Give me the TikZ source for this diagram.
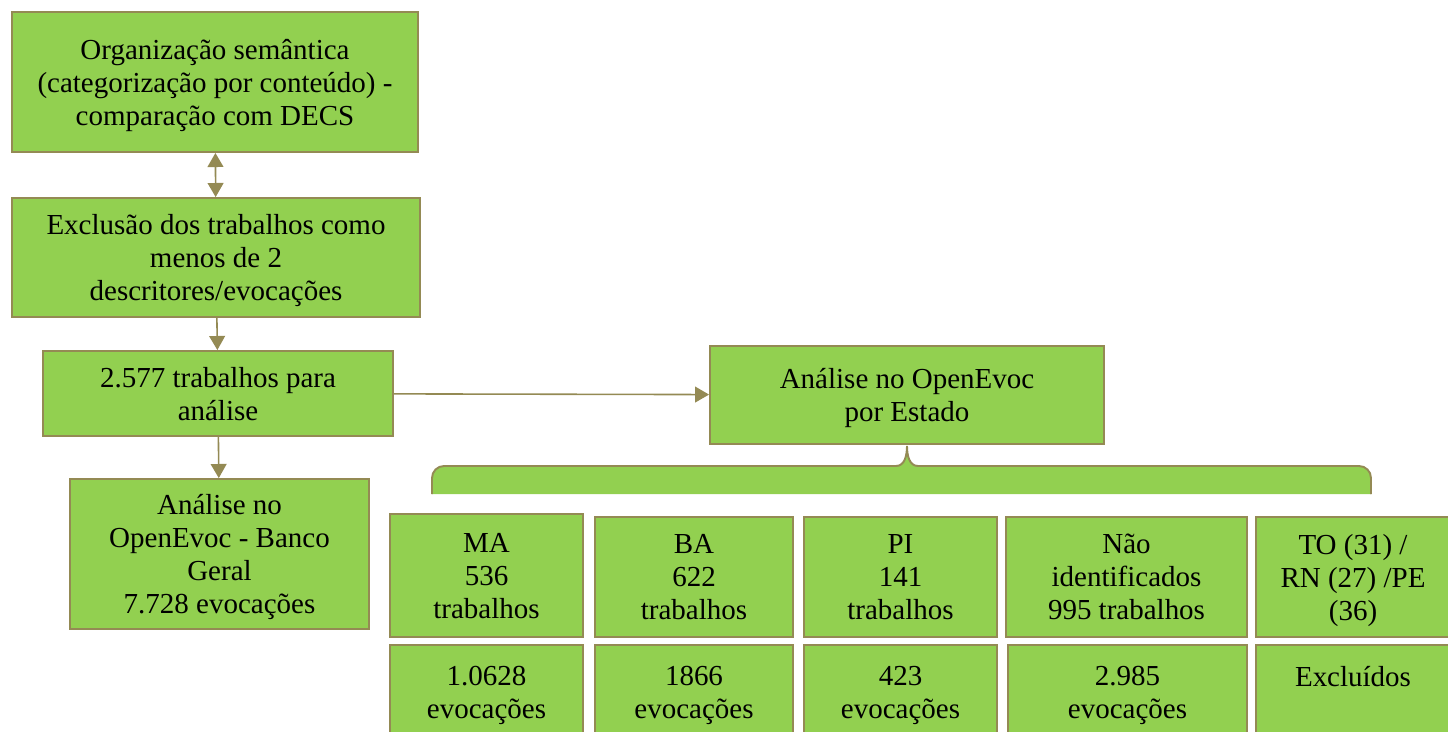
\documentclass[tikz,border=0pt]{standalone}
\usepackage{fontspec}
\setmainfont{Liberation Serif}
\usetikzlibrary{arrows.meta}
\definecolor{caixaverde}{HTML}{92D050}
\definecolor{bordaoliva}{HTML}{948A54}
\tikzset{
	caixa/.style={draw=bordaoliva, fill=caixaverde, line width=1.1pt, align=center, inner sep=2pt, text depth=0pt, font=\fontsize{16.5}{18.8}\selectfont},
	seta/.style={draw=bordaoliva, line width=0.9pt, -{Triangle[length=8pt,width=9pt]}},
	setadupla/.style={draw=bordaoliva, line width=0.9pt, {Triangle[length=8pt,width=9pt]}-{Triangle[length=8pt,width=9pt]}},
	chave/.style={draw=bordaoliva, fill=caixaverde, line width=1.1pt},
}
\begin{document}
\begin{tikzpicture}[x=0.02cm, y=-0.02cm]
			\clip (0,0) rectangle (1448,731);
			\node[caixa, minimum width=8.12cm, minimum height=2.8cm] (org) at (215,82) {Organização semântica\\(categorização por conteúdo) -\\comparação com DECS};
			\node[caixa, minimum width=8.16cm, minimum height=2.38cm] (excl) at (216,257.5) {Exclusão dos trabalhos como\\menos de 2\\descritores/evocações};
			\node[caixa, minimum width=7cm, minimum height=1.7cm] (total) at (218,393.5) {2.577 trabalhos para\\análise};
			\node[caixa, minimum width=5.98cm, minimum height=3cm] (geral) at (219.5,554) {Análise no\\OpenEvoc - Banco\\Geral\\7.728 evocações};
			\node[caixa, minimum width=7.88cm, minimum height=1.96cm] (estado) at (907,395) {Análise no OpenEvoc\\por Estado};
			
			\draw[chave] (432,494) -- (432,478) to[out=90,in=180] (444,466) -- (896,466) to[out=0,in=-90] (907,446) to[out=-90,in=180] (918,466) -- (1359,466) to[out=0,in=90] (1371,478) -- (1371,494);
			
			\node[caixa, minimum width=3.86cm, minimum height=2.46cm] (ma) at (486.5,575.5) {MA\\536\\trabalhos};
			\node[caixa, minimum width=3.96cm, minimum height=2.4cm] (ba) at (694,577) {BA\\622\\trabalhos};
			\node[caixa, minimum width=3.86cm, minimum height=2.4cm] (pi) at (900.5,577) {PI\\141\\trabalhos};
			\node[caixa, minimum width=4.82cm, minimum height=2.4cm] (naoid) at (1126.5,577) {Não\\identificados\\995 trabalhos};
			\node[caixa, minimum width=3.88cm, minimum height=2.4cm] (outros) at (1353,577) {TO (31) /\\RN (27) /PE\\(36)};
			
			\node[caixa, minimum width=3.86cm, minimum height=1.9cm] (maev) at (486.5,692.5) {1.0628\\evocações};
			\node[caixa, minimum width=3.96cm, minimum height=1.9cm] (baev) at (694,692.5) {1866\\evocações};
			\node[caixa, minimum width=3.86cm, minimum height=1.9cm] (piev) at (900.5,692.5) {423\\evocações};
			\node[caixa, minimum width=4.78cm, minimum height=1.9cm] (naoidev) at (1127.5,692.5) {2.985\\evocações};
			\node[caixa, minimum width=3.88cm, minimum height=1.9cm] (excluidos) at (1353,692.5) {Excluídos\\\mbox{}};
			
			\draw[setadupla] (org) -- (excl);
			\draw[seta] (excl) -- (total);
			\draw[seta] (total) -- (geral);
			\draw[seta] (total) -- (estado);
		\end{tikzpicture}
\end{document}
